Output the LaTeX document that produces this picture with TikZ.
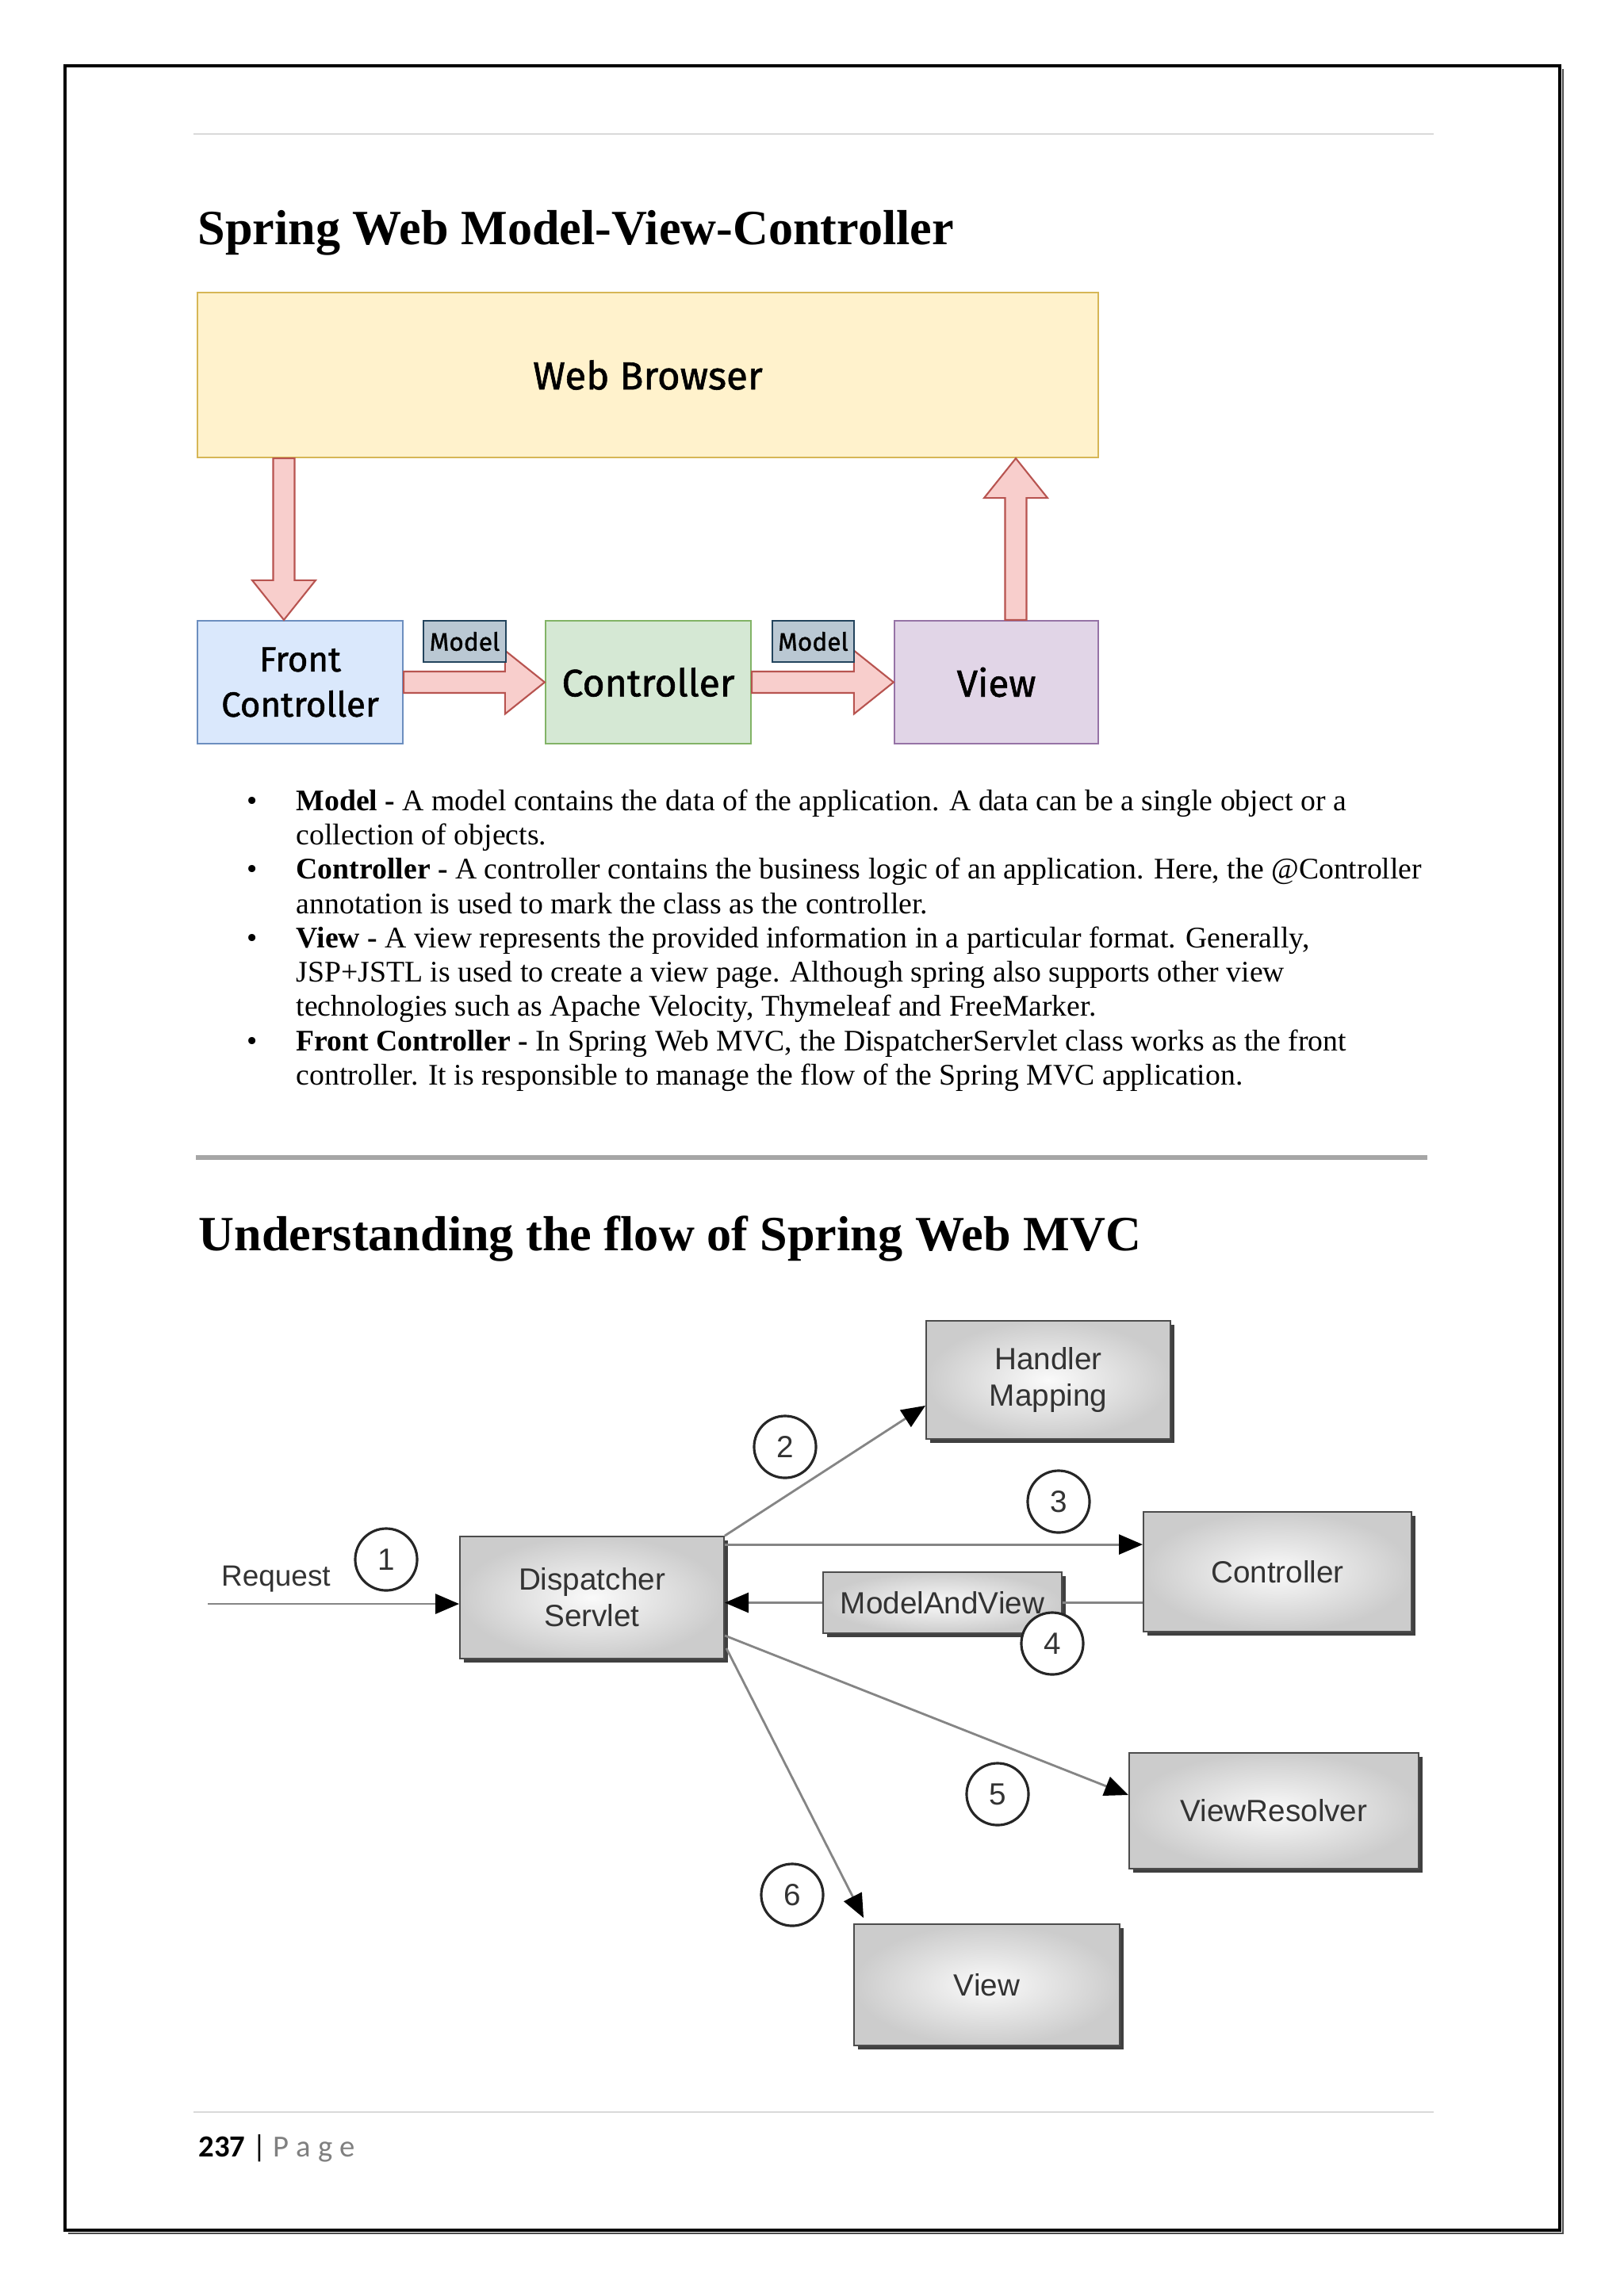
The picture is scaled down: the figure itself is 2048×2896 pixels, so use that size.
\documentclass[tikz,border=0pt]{standalone}
\usepackage{fontspec}
\setmainfont{Liberation Serif}
\newfontfamily\arialf{Liberation Sans}
\newfontfamily\drawf{Fira Sans}[FakeBold=1.2]
\newfontfamily\calf{Carlito}
\usetikzlibrary{calc,shadows,arrows.meta}
\definecolor{wbFill}{HTML}{FFF2CC}\definecolor{wbDraw}{HTML}{D6B656}
\definecolor{fcFill}{HTML}{DAE8FC}\definecolor{fcDraw}{HTML}{6C8EBF}
\definecolor{ctFill}{HTML}{D5E8D4}\definecolor{ctDraw}{HTML}{82B366}
\definecolor{vwFill}{HTML}{E1D5E7}\definecolor{vwDraw}{HTML}{9673A6}
\definecolor{mdFill}{HTML}{BAC8D3}\definecolor{mdDraw}{HTML}{23445D}
\definecolor{arFill}{HTML}{F8CECC}\definecolor{arDraw}{HTML}{B85450}
\definecolor{flowGray}{HTML}{858585}
\definecolor{txtGray}{HTML}{333333}
\newcommand\blockarr[2]{%
  \coordinate (hb) at ($(#2)!0.5cm!(#1)$);
  \draw[barrow] ($(#1)!0.135cm!90:(#2)$) -- ($(hb)!0.135cm!90:(#2)$) -- ($(hb)!0.40cm!90:(#2)$) -- (#2)
    -- ($(hb)!0.40cm!-90:(#2)$) -- ($(hb)!0.135cm!-90:(#2)$) -- ($(#1)!0.135cm!-90:(#2)$) -- cycle;}
\tikzset{
  dbox/.style={draw, line width=0.6pt, inner sep=0pt, align=center, font=\drawf\fontsize{14}{16}\selectfont},
  mdl/.style={dbox, fill=mdFill, draw=mdDraw, minimum height=0.52cm, font=\drawf\fontsize{9}{11}\selectfont},
  barrow/.style={fill=arFill, draw=arDraw, line width=0.6pt, line join=miter},
  bodyline/.style={anchor=base west, inner sep=0pt, font=\fontsize{10.73}{13}\selectfont},
  bul/.style={anchor=base, inner sep=0pt, font=\fontsize{10.73}{13}\selectfont},
  heading/.style={anchor=base west, inner sep=0pt, font=\bfseries\fontsize{17.68}{20}\selectfont},
  gbox/.style={draw=gray!60!black, line width=0.5pt, shading=radial, inner color=gray!4, outer color=gray!40,
    drop shadow={shadow xshift=0.05cm, shadow yshift=-0.05cm, fill=gray!50!black, opacity=1},
    font=\arialf\fontsize{11}{13}\selectfont, text=txtGray, align=center, inner sep=0pt},
  circ/.style={circle, draw=black!85, line width=0.9pt, fill=white, minimum size=0.78cm, inner sep=0pt,
    font=\arialf\fontsize{11}{13}\selectfont, text=txtGray},
  flow/.style={draw=flowGray, line width=0.8pt, -{Triangle[length=0.3cm,width=0.25cm,color=black]}},
  plain/.style={draw=flowGray, line width=0.8pt}
}
\begin{document}
\begin{tikzpicture}[x=0.01cm, y=-0.01cm]
\useasboundingbox (0,0) rectangle (2048,2896);
\fill[white] (0,0) rectangle (2048,2896);
% page frame and rules
\draw[line width=0.9pt] (82,83) rectangle (1967,2813);
\draw[line width=0.7pt, black!70] (1971,87) -- (1971,2817) -- (86,2817);
\draw[line width=0.02cm, gray!30] (244,169) -- (1808,169);
\draw[line width=0.06cm, gray!70] (247,1460) -- (1800,1460);
\draw[line width=0.025cm, gray!30] (244,2664) -- (1808,2664);

% headings
\node[heading] (h1) at (249,308) {Spring Web Model-View-Controller};
\node[heading] (h2) at (250,1577) {Understanding the flow of Spring Web MVC};

% top diagram
\node[dbox, fill=wbFill, draw=wbDraw, minimum width=11.36cm, minimum height=2.08cm] (WB) at (817,473) {Web Browser};
\node[dbox, fill=fcFill, draw=fcDraw, minimum width=2.59cm, minimum height=1.55cm, font=\drawf\fontsize{12.5}{16.2}\selectfont] (FC) at (378.5,860.5) {Front\\Controller};
\node[dbox, fill=ctFill, draw=ctDraw, minimum width=2.59cm, minimum height=1.55cm, font=\drawf\fontsize{13.7}{16}\selectfont] (CT) at (817.5,860.5) {Controller};
\node[dbox, fill=vwFill, draw=vwDraw, minimum width=2.57cm, minimum height=1.55cm, font=\drawf\fontsize{13.5}{16}\selectfont] (VW) at (1256.5,860.5) {View};
\coordinate (d1e) at ($(FC.north)+(-20.5,0)$);
\coordinate (d1s) at (d1e |- WB.south);
\coordinate (u1s) at ($(VW.north)+(24.5,0)$);
\coordinate (u1e) at (u1s |- WB.south);
\blockarr{d1s}{d1e}
\blockarr{u1s}{u1e}
\blockarr{FC.east}{CT.west}
\blockarr{CT.east}{VW.west}
\node[mdl, minimum width=1.04cm] (M1) at (586,809) {Model};
\node[mdl, minimum width=1.03cm] (M2) at (1025.5,809) {Model};

% bullet list
\node[bul] (b1) at (318,1022) {\textbullet};
\node[bodyline] (l1) at (373,1022) {\textbf{Model -} A model contains the data of the application. A data can be a single object or a};
\node[bodyline] (l2) at (373,1065) {collection of objects.};
\node[bul] (b2) at (318,1108) {\textbullet};
\node[bodyline] (l3) at (373,1108) {\textbf{Controller -} A controller contains the business logic of an application. Here, the @Controller};
\node[bodyline] (l4) at (373,1152) {annotation is used to mark the class as the controller.};
\node[bul] (b3) at (318,1195) {\textbullet};
\node[bodyline] (l5) at (373,1195) {\textbf{View -} A view represents the provided information in a particular format. Generally,};
\node[bodyline] (l6) at (373,1238) {JSP+JSTL is used to create a view page. Although spring also supports other view};
\node[bodyline] (l7) at (373,1281) {technologies such as Apache Velocity, Thymeleaf and FreeMarker.};
\node[bul] (b4) at (318,1325) {\textbullet};
\node[bodyline] (l8) at (373,1325) {\textbf{Front Controller -} In Spring Web MVC, the DispatcherServlet class works as the front};
\node[bodyline] (l9) at (373,1368) {controller. It is responsible to manage the flow of the Spring MVC application.};

% bottom diagram
\node[gbox, minimum width=3.33cm, minimum height=1.54cm] (DS) at (746.5,2015) {Dispatcher\\Servlet};
\node[gbox, minimum width=3.08cm, minimum height=1.49cm] (HM) at (1322,1740.5) {Handler\\Mapping};
\node[gbox, minimum width=3.38cm, minimum height=1.51cm] (CR) at (1611,1982.5) {Controller};
\node[gbox, minimum width=3.01cm, minimum height=0.77cm] (MAV) at (1188.5,2021.5) {ModelAndView};
\node[gbox, minimum width=3.65cm, minimum height=1.46cm] (VR) at (1606.5,2284) {ViewResolver};
\node[gbox, minimum width=3.35cm, minimum height=1.53cm] (VB) at (1244.5,2503.5) {View};

\coordinate (req) at (262,2023);
\node[anchor=base, inner sep=0pt, font=\arialf\fontsize{10.5}{13}\selectfont, text=txtGray] (reqt) at (348,2000) {Request};
\draw[flow] (req) -- (req -| DS.west);
\draw[flow] (DS.north east) -- ($(HM.south west)+(0,-43)$);
\coordinate (c3) at ($(CR.north west)+(0,42)$);
\draw[flow] (c3 -| DS.east) -- (c3);
\draw[plain] (CR.west |- MAV.east) -- (MAV.east);
\draw[flow] (MAV.west) -- (MAV.west -| DS.east);
\draw[flow] ($(DS.south east)+(0,-30)$) -- ($(VR.west)+(0,-20)$);
\draw[flow] ($(DS.south east)+(2,-14)$) -- ($(VB.north west)+(13,-7)$);

\node[circ] (n1) at (487,1967) {1};
\node[circ] (n2) at (990,1825) {2};
\node[circ] (n3) at (1335,1894) {3};
\node[circ] (n4) at (1327,2073) {4};
\node[circ] (n5) at (1258,2263) {5};
\node[circ] (n6) at (999,2390) {6};

% footer
\node[anchor=base west, inner sep=0pt, font=\calf\fontsize{11}{13}\selectfont] (foot) at (250,2720)
  {\textbf{237} | \textcolor{gray}{P\kern2.6pt a\kern2.6pt g\kern2.6pt e}};
\end{tikzpicture}
\end{document}
